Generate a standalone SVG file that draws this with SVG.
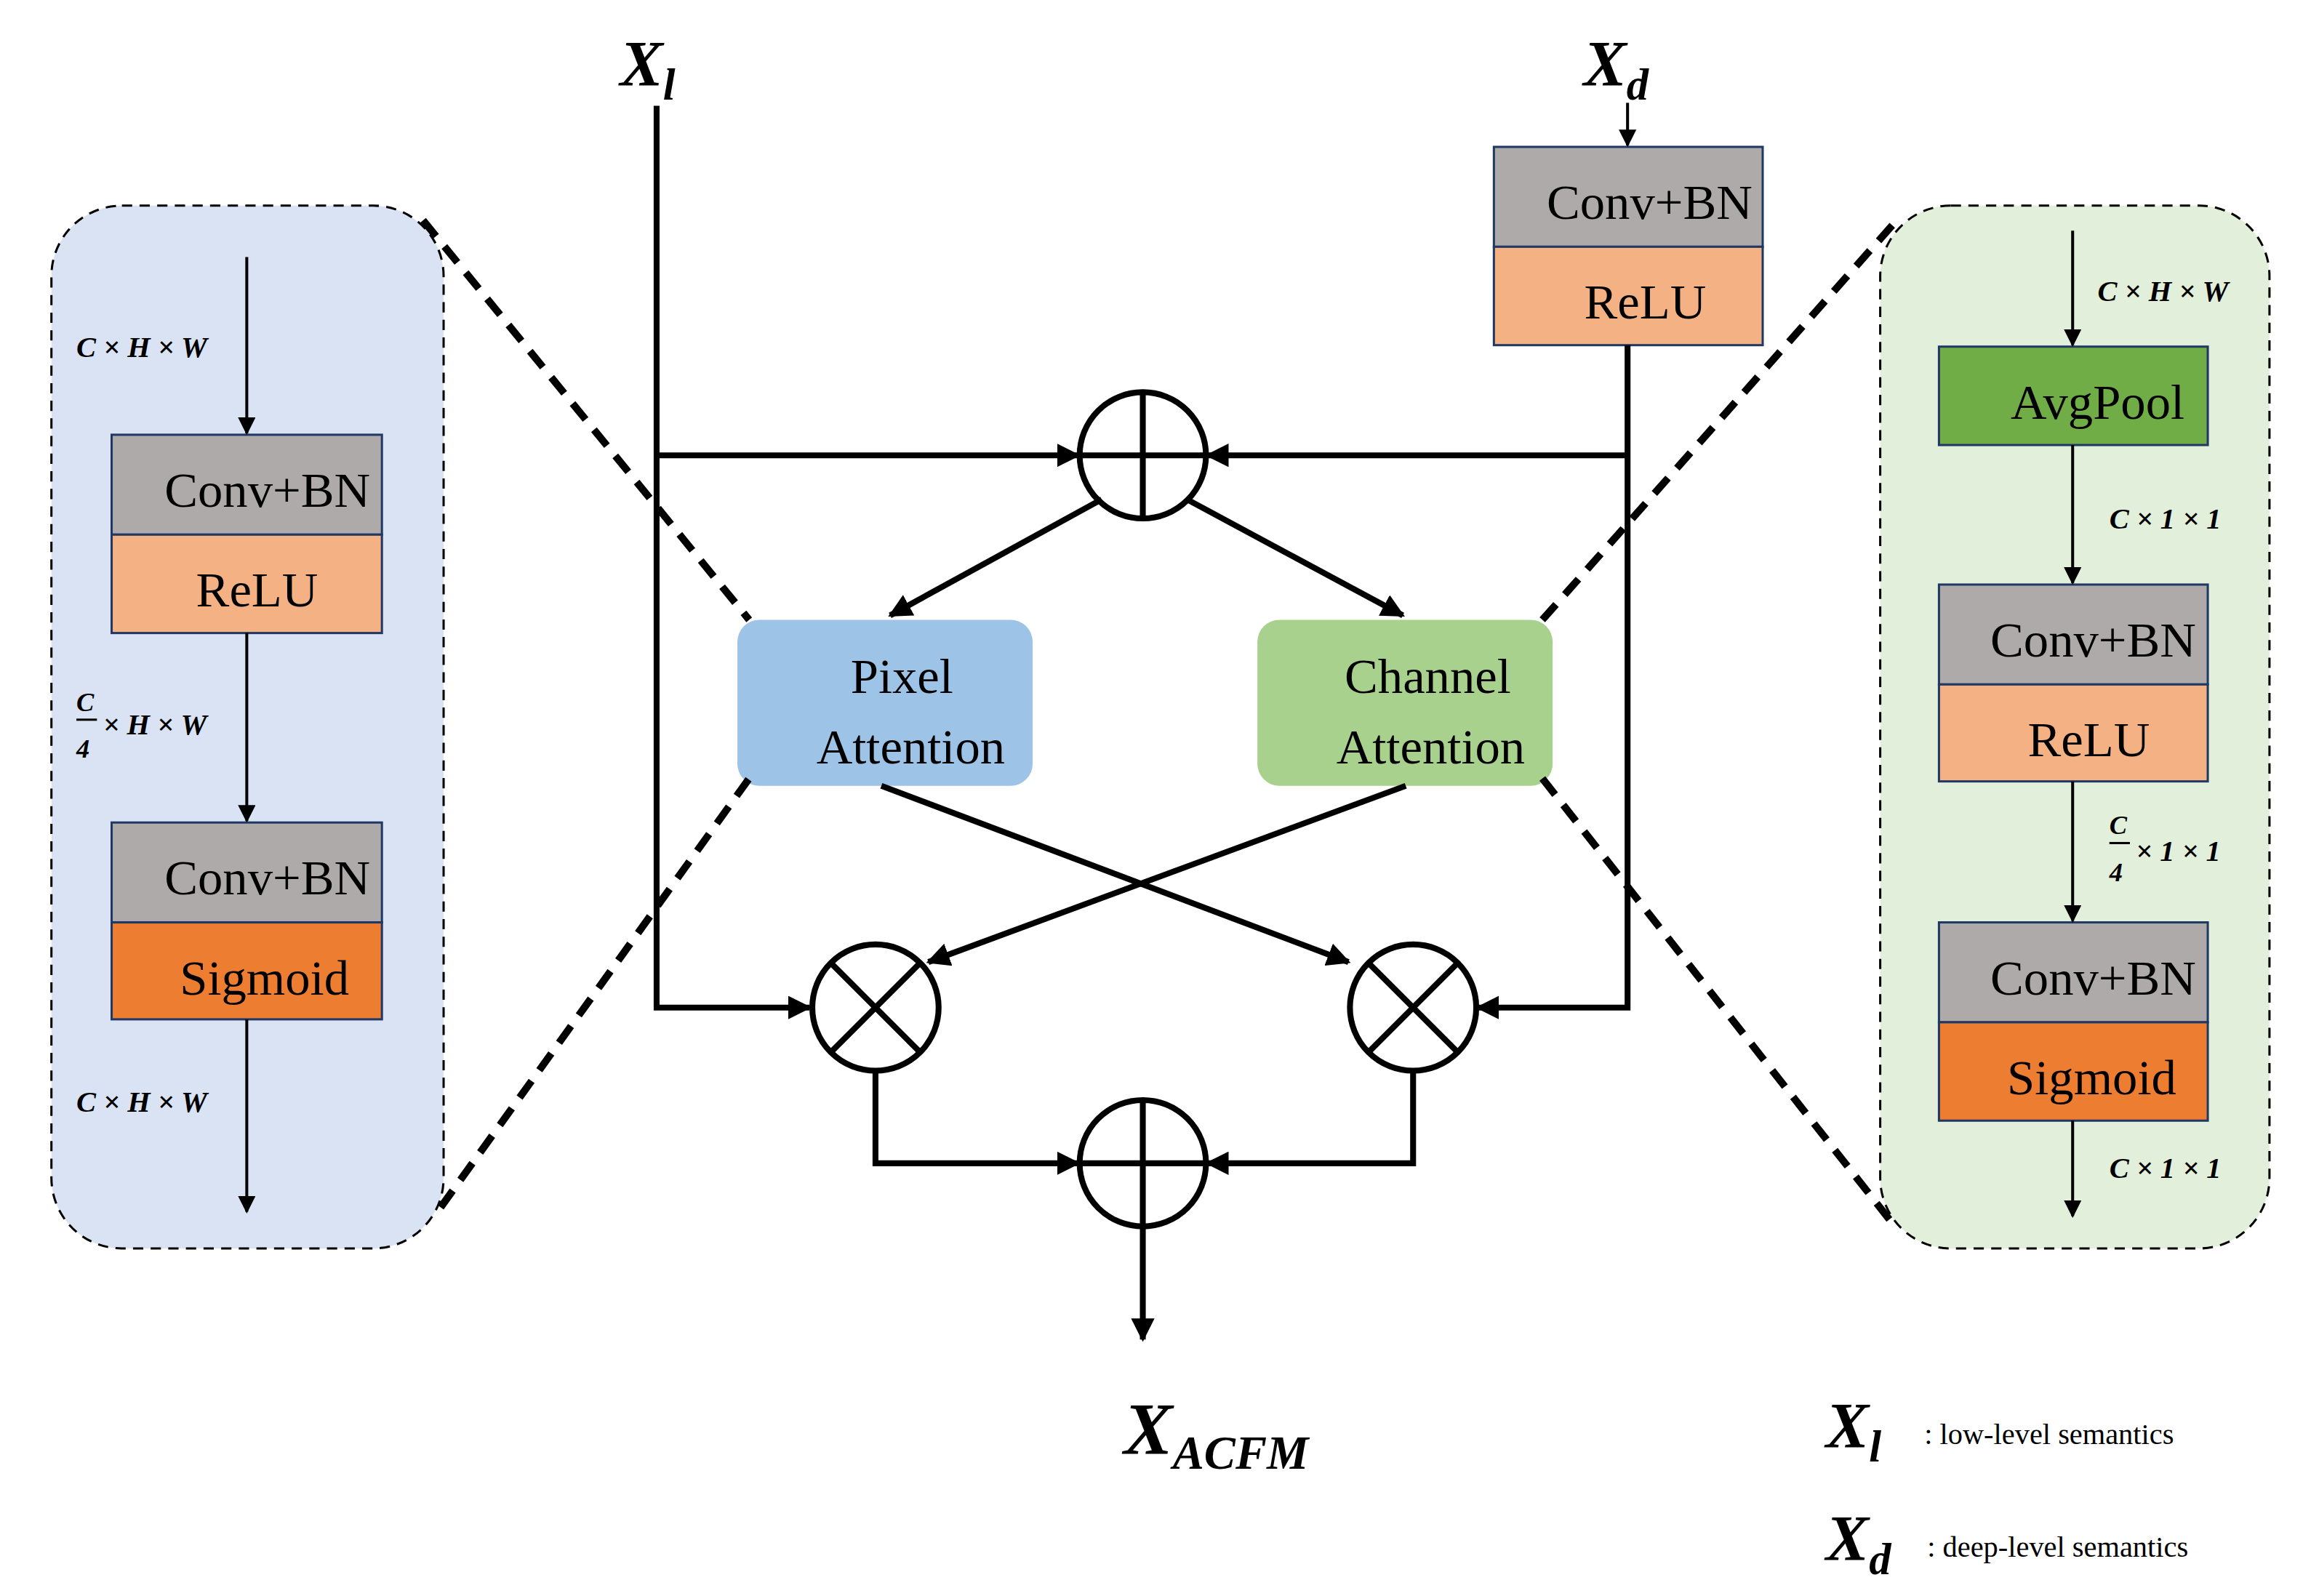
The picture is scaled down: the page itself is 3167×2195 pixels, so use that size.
<svg xmlns="http://www.w3.org/2000/svg" width="3167" height="2195" viewBox="0 0 3167 2195">
<defs>
<marker id="ah" viewBox="0 0 10 10" refX="9" refY="5" markerWidth="4" markerHeight="4" orient="auto" markerUnits="strokeWidth"><path d="M0,0 L10,5 L0,10 z" fill="#000"/></marker>
<marker id="as" viewBox="0 0 10 10" refX="9" refY="5" markerWidth="6" markerHeight="6" orient="auto" markerUnits="strokeWidth"><path d="M0,0 L10,5 L0,10 z" fill="#000"/></marker>
<style>
.bt{font-family:"Liberation Serif",serif;font-size:34px;text-anchor:middle;fill:#000}
.m{font-family:"Liberation Serif",serif;font-weight:bold;font-style:italic;fill:#000}
.ln{stroke:#000;stroke-width:4;fill:none}
.thin{stroke:#000;stroke-width:2;fill:none}
.dsh{stroke:#000;stroke-width:5;stroke-dasharray:14 9;fill:none}
.box{stroke:#203864;stroke-width:1.5}
.lg{font-family:"Liberation Serif",serif;font-size:20px;fill:#000}
</style>
</defs>
<rect width="3167" height="2195" fill="#fff"/>
<g transform="scale(2.02)">
<g id="leftPanel">
<rect x="35" y="140" width="267" height="710" rx="48" fill="#dae3f3" stroke="#000" stroke-width="1.5" stroke-dasharray="7 5"/>
<rect class="box" x="76" y="296" width="184" height="68" fill="#aeaaaa"/><text class="bt" x="182" y="345">Conv+BN</text>
<rect class="box" x="76" y="364" width="184" height="67" fill="#f4b183"/><text class="bt" x="175" y="413">ReLU</text>
<rect class="box" x="76" y="560" width="184" height="68" fill="#aeaaaa"/><text class="bt" x="182" y="609">Conv+BN</text>
<rect class="box" x="76" y="628" width="184" height="66" fill="#ed7d31"/><text class="bt" x="180" y="677">Sigmoid</text>
<text class="m" x="52" y="243" font-size="20">C × H × W</text>
<text class="m" x="52" y="484" font-size="18">C</text><line x1="52" y1="490" x2="66" y2="490" stroke="#000" stroke-width="1.5"/><text class="m" x="52" y="516" font-size="18">4</text>
<text class="m" x="70" y="500" font-size="20">× H × W</text>
<text class="m" x="52" y="757" font-size="20">C × H × W</text>
</g>
<g id="rightPanel">
<rect x="1280" y="140" width="265" height="710" rx="48" fill="#e2efda" stroke="#000" stroke-width="1.5" stroke-dasharray="7 5"/>
<rect class="box" x="1320" y="236" width="183" height="67" fill="#70ad47"/><text class="bt" x="1428" y="285">AvgPool</text>
<rect class="box" x="1320" y="398" width="183" height="68" fill="#aeaaaa"/><text class="bt" x="1425" y="447">Conv+BN</text>
<rect class="box" x="1320" y="466" width="183" height="66" fill="#f4b183"/><text class="bt" x="1422" y="515">ReLU</text>
<rect class="box" x="1320" y="628" width="183" height="68" fill="#aeaaaa"/><text class="bt" x="1425" y="677">Conv+BN</text>
<rect class="box" x="1320" y="696" width="183" height="67" fill="#ed7d31"/><text class="bt" x="1424" y="745">Sigmoid</text>
<text class="m" x="1428" y="205" font-size="20">C × H × W</text>
<text class="m" x="1436" y="360" font-size="20">C × 1 × 1</text>
<text class="m" x="1436" y="568" font-size="18">C</text><line x1="1436" y1="574" x2="1450" y2="574" stroke="#000" stroke-width="1.5"/><text class="m" x="1436" y="600" font-size="18">4</text>
<text class="m" x="1454" y="586" font-size="20">× 1 × 1</text>
<text class="m" x="1436" y="802" font-size="20">C × 1 × 1</text>
</g>
<g id="xdBlock">
<rect class="box" x="1017" y="100" width="183" height="68" fill="#aeaaaa"/><text class="bt" x="1123" y="149">Conv+BN</text>
<rect class="box" x="1017" y="168" width="183" height="67" fill="#f4b183"/><text class="bt" x="1120" y="217">ReLU</text>
</g>
<g id="pixelAttention"><rect x="502" y="422" width="201" height="113" rx="15" fill="#9dc3e6"/><text class="bt" x="614" y="472">Pixel</text><text class="bt" x="620" y="520">Attention</text></g>
<g id="channelAttention"><rect x="856" y="422" width="201" height="113" rx="15" fill="#a9d18e"/><text class="bt" x="972" y="472">Channel</text><text class="bt" x="974" y="520">Attention</text></g>
<g id="addTop"><circle class="ln" cx="778" cy="310" r="43"/><line class="ln" x1="735" y1="310" x2="821" y2="310"/><line class="ln" x1="778" y1="267" x2="778" y2="353"/></g>
<g id="mulLeft"><circle class="ln" cx="596" cy="686" r="43"/><line class="ln" x1="566" y1="656" x2="626" y2="716"/><line class="ln" x1="626" y1="656" x2="566" y2="716"/></g>
<g id="mulRight"><circle class="ln" cx="962" cy="686" r="43"/><line class="ln" x1="932" y1="656" x2="992" y2="716"/><line class="ln" x1="992" y1="656" x2="932" y2="716"/></g>
<g id="addBottom"><circle class="ln" cx="778" cy="792" r="43"/><line class="ln" x1="735" y1="792" x2="821" y2="792"/><line class="ln" x1="778" y1="749" x2="778" y2="835"/></g>
<g id="labels">
<text class="m" x="422" y="58" font-size="44">X<tspan font-size="30" dy="10">l</tspan></text>
<text class="m" x="1078" y="58" font-size="44">X<tspan font-size="30" dy="10">d</tspan></text>
<text class="m" x="765" y="990" font-size="50">X<tspan font-size="32" dy="10">ACFM</tspan></text>
<text class="m" x="1243" y="985" font-size="44">X<tspan font-size="30" dy="10">l</tspan></text>
<text class="lg" x="1310" y="983">: low-level semantics</text>
<text class="m" x="1243" y="1062" font-size="44">X<tspan font-size="30" dy="10">d</tspan></text>
<text class="lg" x="1312" y="1060">: deep-level semantics</text>
</g>
<g id="connectors">
<line class="thin" x1="168" y1="175" x2="168" y2="295" marker-end="url(#as)"/>
<line class="thin" x1="168" y1="431" x2="168" y2="559" marker-end="url(#as)"/>
<line class="thin" x1="168" y1="694" x2="168" y2="825" marker-end="url(#as)"/>
<line class="thin" x1="1411" y1="157" x2="1411" y2="235" marker-end="url(#as)"/>
<line class="thin" x1="1411" y1="303" x2="1411" y2="397" marker-end="url(#as)"/>
<line class="thin" x1="1411" y1="532" x2="1411" y2="627" marker-end="url(#as)"/>
<line class="thin" x1="1411" y1="763" x2="1411" y2="828" marker-end="url(#as)"/>
<line class="thin" x1="1108" y1="70" x2="1108" y2="99" marker-end="url(#as)"/>
<polyline class="ln" points="447,72 447,686 551,686" marker-end="url(#ah)"/>
<line class="ln" x1="447" y1="310" x2="734" y2="310" marker-end="url(#ah)"/>
<polyline class="ln" points="1108,235 1108,686 1006,686" marker-end="url(#ah)"/>
<line class="ln" x1="1108" y1="310" x2="822" y2="310" marker-end="url(#ah)"/>
<line class="ln" x1="750" y1="340" x2="606" y2="419" marker-end="url(#ah)"/>
<line class="ln" x1="808" y1="340" x2="955" y2="419" marker-end="url(#ah)"/>
<line class="ln" x1="600" y1="535" x2="918" y2="655" marker-end="url(#ah)"/>
<line class="ln" x1="957" y1="535" x2="632" y2="655" marker-end="url(#ah)"/>
<polyline class="ln" points="596,729 596,792 734,792" marker-end="url(#ah)"/>
<polyline class="ln" points="962,729 962,792 822,792" marker-end="url(#ah)"/>
<line class="ln" x1="778" y1="835" x2="778" y2="912" marker-end="url(#ah)"/>
<line class="dsh" x1="288" y1="150" x2="510" y2="422"/>
<line class="dsh" x1="300" y1="822" x2="510" y2="530"/>
<line class="dsh" x1="1050" y1="422" x2="1293" y2="148"/>
<line class="dsh" x1="1050" y1="530" x2="1290" y2="835"/>
</g>
</g>
</svg>
